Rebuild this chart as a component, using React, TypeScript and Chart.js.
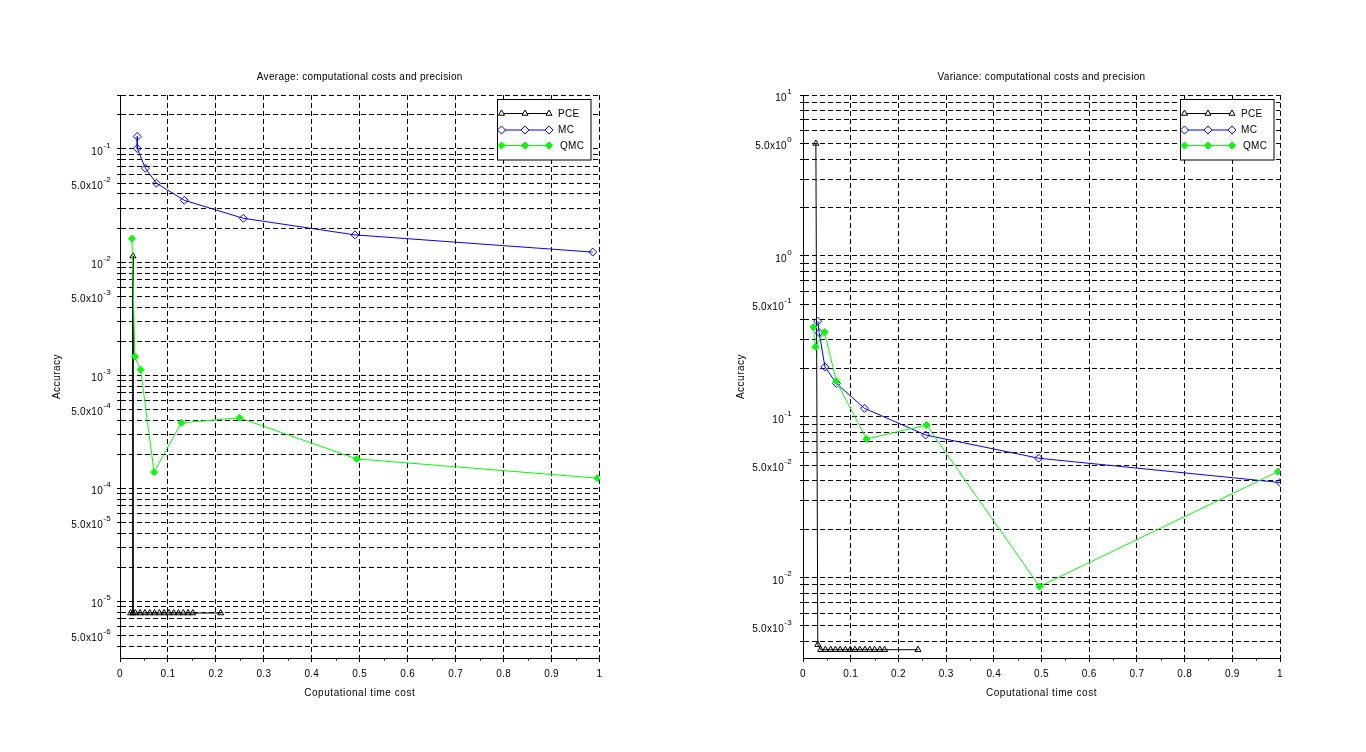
import React, { useEffect, useRef } from 'react';
import { Chart, registerables } from 'chart.js';
import { drawPoint } from 'chart.js/helpers';

Chart.register(...registerables);

const FONT = "'Liberation Sans', Arial, Helvetica, sans-serif";
const X_TITLE = 'Coputational time cost';
const Y_TITLE = 'Accuracy';
const SERIES_NAMES = ['PCE', 'MC', 'QMC'];
const SERIES_COLORS = ['#000000', '#0000ff', '#00ff00'];

const X_TICKS = [0, 0.1, 0.2, 0.3, 0.4, 0.5, 0.6, 0.7, 0.8, 0.9, 1];
const X_MINOR_TICKS = [0.05, 0.15, 0.25, 0.35, 0.45, 0.55, 0.65, 0.75, 0.85, 0.95];
const Y_LABEL_MANTISSAS = [1, 5];

// ---- Average chart ----
const AVG_TITLE = 'Average: computational costs and precision';
const AVG_Y_MIN = 3.162e-6;
const AVG_Y_MAX = 0.3;
const AVG_PCE_X = [0.027, 0.027, 0.022, 0.032, 0.042, 0.052, 0.062, 0.072, 0.082, 0.092, 0.102, 0.112, 0.122, 0.132, 0.142, 0.152, 0.21];
const AVG_PCE_Y = [0.0113, 7.9e-6, 7.9e-6, 7.9e-6, 7.9e-6, 7.9e-6, 7.9e-6, 7.9e-6, 7.9e-6, 7.9e-6, 7.9e-6, 7.9e-6, 7.9e-6, 7.9e-6, 7.9e-6, 7.9e-6, 7.9e-6];
const AVG_MC_X = [0.036, 0.036, 0.053, 0.076, 0.134, 0.257, 0.49, 0.986];
const AVG_MC_Y = [0.129, 0.101, 0.0676, 0.0498, 0.0352, 0.0244, 0.0174, 0.01225];
const AVG_QMC_X = [0.025, 0.031, 0.043, 0.071, 0.128, 0.249, 0.494, 0.996];
const AVG_QMC_Y = [0.0161, 0.00146, 0.00112, 1.39e-4, 3.79e-4, 4.2e-4, 1.82e-4, 1.23e-4];

// ---- Variance chart ----
const VAR_TITLE = 'Variance: computational costs and precision';
const VAR_Y_MIN = 3.162e-3;
const VAR_Y_MAX = 10;
const VAR_PCE_X = [0.027, 0.031, 0.037, 0.047, 0.058, 0.068, 0.078, 0.089, 0.099, 0.109, 0.119, 0.13, 0.14, 0.15, 0.161, 0.171, 0.241];
const VAR_PCE_Y = [5.0, 3.83e-3, 3.56e-3, 3.56e-3, 3.56e-3, 3.56e-3, 3.56e-3, 3.56e-3, 3.56e-3, 3.56e-3, 3.56e-3, 3.56e-3, 3.56e-3, 3.56e-3, 3.56e-3, 3.56e-3, 3.56e-3];
const VAR_MC_X = [0.031, 0.034, 0.046, 0.07, 0.129, 0.257, 0.494, 1.0];
const VAR_MC_Y = [0.392, 0.333, 0.204, 0.161, 0.1127, 0.077, 0.0552, 0.039];
const VAR_QMC_X = [0.022, 0.026, 0.045, 0.07, 0.133, 0.259, 0.496, 0.996];
const VAR_QMC_Y = [0.361, 0.272, 0.336, 0.166, 0.0727, 0.0888, 0.0088, 0.0456];

function logGrid(min: number, max: number): number[] {
  const out: number[] = [];
  const e0 = Math.floor(Math.log10(min)) - 1;
  const e1 = Math.ceil(Math.log10(max)) + 1;
  for (let e = e0; e <= e1; e++) {
    for (let m = 1; m <= 9; m++) {
      const v = parseFloat(m + 'e' + e);
      if (v >= min * 0.999 && v <= max * 1.001) out.push(v);
    }
  }
  return out;
}

function yLabelParts(v: number): { base: string; exp: string } | null {
  const e = Math.floor(Math.log10(v) + 1e-9);
  const m = Math.round(v / Math.pow(10, e));
  if (!Y_LABEL_MANTISSAS.includes(m)) return null;
  return { base: m === 1 ? '10' : m.toFixed(1) + 'x10', exp: String(e) };
}

const pts = (xs: number[], ys: number[]) => xs.map((x, i) => ({ x, y: ys[i] }));

const MARKERS = [
  { style: 'triangle', radius: 3.5, fill: 'rgba(0,0,0,0)' },
  { style: 'rectRot', radius: 4, fill: 'rgba(0,0,0,0)' },
  { style: 'rectRot', radius: 3.5, fill: '#00ff00' },
];

function makeDatasets(xsList: number[][], ysList: number[][]) {
  return xsList.map((xs, i) => ({
    label: SERIES_NAMES[i],
    data: pts(xs, ysList[i]),
    showLine: true,
    borderColor: SERIES_COLORS[i],
    backgroundColor: SERIES_COLORS[i],
    borderWidth: 1,
    pointStyle: MARKERS[i].style,
    pointRadius: MARKERS[i].radius,
    pointHoverRadius: MARKERS[i].radius,
    pointBorderWidth: 1,
    pointBorderColor: SERIES_COLORS[i],
    pointBackgroundColor: MARKERS[i].fill,
    order: 3 - i,
    tension: 0,
    fill: false,
  }));
}

function makeDecor(title: string, yTitleX: number, labelRight: number) {
  return {
    id: 'decor',
    beforeDraw(chart: any) {
      chart.ctx.letterSpacing = '0.3px';
    },
    afterDraw(chart: any) {
      const { ctx, chartArea: a } = chart;
      const xs = chart.scales.x;
      const ys = chart.scales.y;
      ctx.save();
      ctx.letterSpacing = '0.3px';
      ctx.fillStyle = '#000';
      ctx.strokeStyle = '#000';
      ctx.lineWidth = 1;
      // minor x ticks
      X_MINOR_TICKS.forEach((v) => {
        const px = Math.round(xs.getPixelForValue(v)) + 0.5;
        ctx.beginPath();
        ctx.moveTo(px, a.bottom);
        ctx.lineTo(px, a.bottom + 2.5);
        ctx.stroke();
      });
      // y tick labels with superscript exponents
      ys.ticks.forEach((t: any) => {
        const parts = yLabelParts(t.value);
        if (!parts) return;
        const py = ys.getPixelForValue(t.value);
        ctx.textBaseline = 'alphabetic';
        ctx.font = `8px ${FONT}`;
        const ew = ctx.measureText(parts.exp).width;
        ctx.textAlign = 'left';
        ctx.fillText(parts.exp, labelRight - ew, py - 1.2);
        ctx.font = `10px ${FONT}`;
        ctx.textAlign = 'right';
        ctx.fillText(parts.base, labelRight - ew - 0.3, py + 6);
      });
      // titles
      ctx.font = `10px ${FONT}`;
      ctx.textAlign = 'center';
      ctx.textBaseline = 'middle';
      const cx = (a.left + a.right) / 2;
      ctx.fillText(title, cx, 77);
      ctx.letterSpacing = '0.55px';
      ctx.fillText(X_TITLE, cx, 693);
      ctx.save();
      ctx.translate(yTitleX, (a.top + a.bottom) / 2);
      ctx.rotate(-Math.PI / 2);
      ctx.letterSpacing = '0.5px';
      ctx.fillText(Y_TITLE, 0, 0);
      ctx.restore();
      // legend
      const bx = 497.5, by = 99.5, bw = 93.5, bh = 60.5;
      ctx.fillStyle = '#fff';
      ctx.fillRect(bx, by, bw, bh);
      ctx.strokeStyle = '#000';
      ctx.strokeRect(bx, by, bw, bh);
      const rowsY = [113.5, 130, 145.5];
      const mx = [501.5, 525, 549];
      ctx.letterSpacing = '0.3px';
      ctx.textAlign = 'left';
      SERIES_NAMES.forEach((name, i) => {
        const y = rowsY[i];
        ctx.strokeStyle = SERIES_COLORS[i];
        ctx.lineWidth = 1;
        ctx.beginPath();
        ctx.moveTo(mx[0], y);
        ctx.lineTo(mx[2], y);
        ctx.stroke();
        mx.forEach((x) => {
          ctx.fillStyle = i === 2 ? SERIES_COLORS[i] : '#fff';
          ctx.strokeStyle = SERIES_COLORS[i];
          drawPoint(ctx, { pointStyle: MARKERS[i].style, radius: MARKERS[i].radius, rotation: 0, borderWidth: 1 } as any, x, y);
        });
        ctx.fillStyle = '#000';
        ctx.fillText(name, i === 2 ? 560 : 558, y + 0.5);
      });
      ctx.restore();
    },
  };
}

interface PanelProps {
  title: string;
  yMin: number;
  yMax: number;
  plotRight: number;
  yTitleX: number;
  labelRight: number;
  xsList: number[][];
  ysList: number[][];
}

const CANVAS_W = 683;
const CANVAS_H = 752;
const PLOT_LEFT = 120;
const PLOT_TOP = 95;
const PLOT_BOTTOM = 658;

function Panel(props: PanelProps) {
  const ref = useRef<HTMLCanvasElement>(null);
  useEffect(() => {
    if (!ref.current) return;
    const yTicks = logGrid(props.yMin, props.yMax);
    const tickFont = { family: FONT, size: 10 };
    const chart = new Chart(ref.current, {
      type: 'scatter',
      data: { datasets: makeDatasets(props.xsList, props.ysList) as any },
      options: {
        animation: false,
        responsive: false,
        events: [],
        layout: { padding: { left: 0, top: PLOT_TOP, right: CANVAS_W - props.plotRight, bottom: 0 } },
        plugins: { legend: { display: false }, tooltip: { enabled: false }, title: { display: false } },
        scales: {
          x: {
            type: 'linear',
            min: 0,
            max: 1,
            afterFit: (s: any) => { s.height = CANVAS_H - PLOT_BOTTOM; },
            afterBuildTicks: (s: any) => { s.ticks = X_TICKS.map((v) => ({ value: v })); },
            ticks: {
              autoSkip: false,
              maxRotation: 0,
              padding: 6,
              color: '#000',
              font: tickFont,
              callback: (v: any) => String(Math.round(Number(v) * 10) / 10),
            },
            grid: { color: '#000', lineWidth: 1, drawTicks: true, tickLength: 4, tickColor: '#000', tickBorderDash: [] } as any,
            border: { display: true, color: '#000', width: 1, dash: [5, 3] },
          },
          y: {
            type: 'logarithmic',
            min: props.yMin,
            max: props.yMax,
            afterFit: (s: any) => { s.width = PLOT_LEFT; },
            afterBuildTicks: (s: any) => { s.ticks = yTicks.map((v) => ({ value: v })); },
            ticks: {
              display: false,
              autoSkip: false,
            },
            grid: { color: '#000', lineWidth: 1, drawTicks: true, tickLength: 3, tickColor: '#000', tickBorderDash: [] } as any,
            border: { display: true, color: '#000', width: 1, dash: [5, 3] },
          },
        },
      } as any,
      plugins: [makeDecor(props.title, props.yTitleX, props.labelRight)],
    });
    return () => chart.destroy();
  }, []);
  return <canvas ref={ref} width={CANVAS_W} height={CANVAS_H} style={{ width: CANVAS_W, height: CANVAS_H, display: 'block' }} />;
}

export default function App() {
  return (
    <div style={{ position: 'fixed', left: 0, top: 0, width: 1366, height: 752, background: '#fff' }}>
      <div style={{ position: 'absolute', left: 0, top: 0 }}>
        <Panel
          title={AVG_TITLE}
          yMin={AVG_Y_MIN}
          yMax={AVG_Y_MAX}
          plotRight={599.5}
          yTitleX={57}
          labelRight={111}
          xsList={[AVG_PCE_X, AVG_MC_X, AVG_QMC_X]}
          ysList={[AVG_PCE_Y, AVG_MC_Y, AVG_QMC_Y]}
        />
      </div>
      <div style={{ position: 'absolute', left: CANVAS_W, top: 0 }}>
        <Panel
          title={VAR_TITLE}
          yMin={VAR_Y_MIN}
          yMax={VAR_Y_MAX}
          plotRight={597}
          yTitleX={58}
          labelRight={109}
          xsList={[VAR_PCE_X, VAR_MC_X, VAR_QMC_X]}
          ysList={[VAR_PCE_Y, VAR_MC_Y, VAR_QMC_Y]}
        />
      </div>
    </div>
  );
}
